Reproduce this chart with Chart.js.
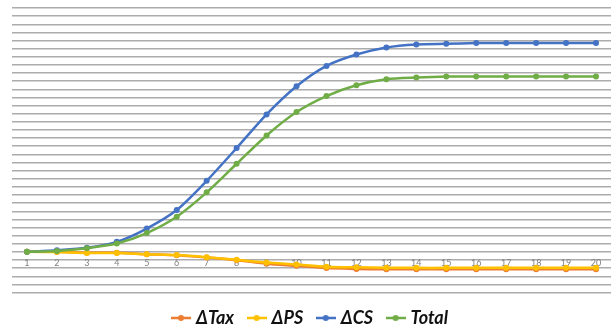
<!DOCTYPE html>
<html>
<head>
<meta charset="utf-8">
<script src="https://cdn.jsdelivr.net/npm/chart.js@4/dist/chart.umd.min.js"></script>
<style>
  html, body { margin: 0; padding: 0; background: #ffffff; }
  #wrap { width: 615px; height: 329px; position: relative; }
</style>
</head>
<body>
<div id="wrap"><canvas id="c"></canvas></div>
<script>
// Periods on the x axis
const periods = ['1','2','3','4','5','6','7','8','9','10','11','12','13','14','15','16','17','18','19','20'];

// Welfare changes per period
const deltaTax = [0, 0, -0.1, -0.12, -0.28, -0.42, -0.7, -1.02, -1.45, -1.72, -2.0, -2.1, -2.15, -2.15, -2.15, -2.15, -2.15, -2.15, -2.15, -2.15];
const deltaPS  = [0, -0.03, -0.15, -0.15, -0.3, -0.4, -0.65, -0.98, -1.3, -1.55, -1.82, -1.9, -1.95, -1.97, -1.97, -1.97, -1.97, -1.97, -1.97, -1.97];
const deltaCS  = [0, 0.2, 0.5, 1.23, 2.87, 5.15, 8.74, 12.77, 16.91, 20.37, 22.88, 24.28, 25.15, 25.52, 25.6, 25.68, 25.68, 25.68, 25.68, 25.68];
const total    = [0, 0.12, 0.45, 1.02, 2.31, 4.32, 7.32, 10.84, 14.32, 17.2, 19.17, 20.49, 21.23, 21.44, 21.56, 21.56, 21.56, 21.56, 21.56, 21.56];

const seriesNames = ['ΔTax', 'ΔPS', 'ΔCS', 'Total'];
const seriesColors = ['#ED7D31', '#FFC000', '#4472C4', '#70AD47'];

// Legend swatch: short line with a marker in the middle
function swatch(color) {
  const cv = document.createElement('canvas');
  cv.width = 20; cv.height = 8;
  const g = cv.getContext('2d');
  g.strokeStyle = color; g.lineWidth = 2.5;
  g.beginPath(); g.moveTo(0, 4); g.lineTo(20, 4); g.stroke();
  g.fillStyle = color;
  g.beginPath(); g.arc(10, 4, 3, 0, Math.PI * 2); g.fill();
  return cv;
}

const seriesData = [deltaTax, deltaPS, deltaCS, total];
const datasets = seriesData.map((d, i) => ({
  label: seriesNames[i],
  data: d,
  borderColor: seriesColors[i],
  backgroundColor: seriesColors[i],
  borderWidth: 2.5,
  pointRadius: 3,
  pointHoverRadius: 3,
  pointBorderWidth: 0,
  tension: 0.25,
  order: 4 - i
}));

new Chart(document.getElementById('c'), {
  type: 'line',
  data: { labels: periods, datasets: datasets },
  options: {
    responsive: true,
    maintainAspectRatio: false,
    animation: false,
    layout: { padding: { left: 12, right: 4, top: 8, bottom: -8 } },
    plugins: {
      tooltip: { enabled: false },
      legend: {
        position: 'bottom',
        labels: {
          usePointStyle: true,
          pointStyleWidth: 12,
          padding: 16.5,
          color: '#111111',
          font: { family: 'Lato', size: 18, style: 'italic', weight: 'bold' },
          generateLabels: (chart) => chart.data.datasets.map((ds, i) => ({
            text: ds.label,
            datasetIndex: i,
            pointStyle: swatch(ds.borderColor),
            fillStyle: ds.borderColor,
            strokeStyle: ds.borderColor,
            lineWidth: 0,
            fontColor: '#111111',
            hidden: false
          }))
        }
      }
    },
    scales: {
      x: {
        position: { y: 0 },
        offset: true,
        grid: { display: false, drawTicks: false },
        border: { display: false },
        ticks: {
          color: '#7f7f7f',
          padding: 6,
          maxRotation: 0,
          autoSkip: false,
          font: { family: 'Lato', size: 9 }
        }
      },
      y: {
        min: -5,
        max: 30,
        border: { display: false },
        grid: { color: '#acacac', lineWidth: 1.4, drawTicks: false },
        ticks: { display: false, stepSize: 1 }
      }
    }
  }
});
</script>
</body>
</html>
